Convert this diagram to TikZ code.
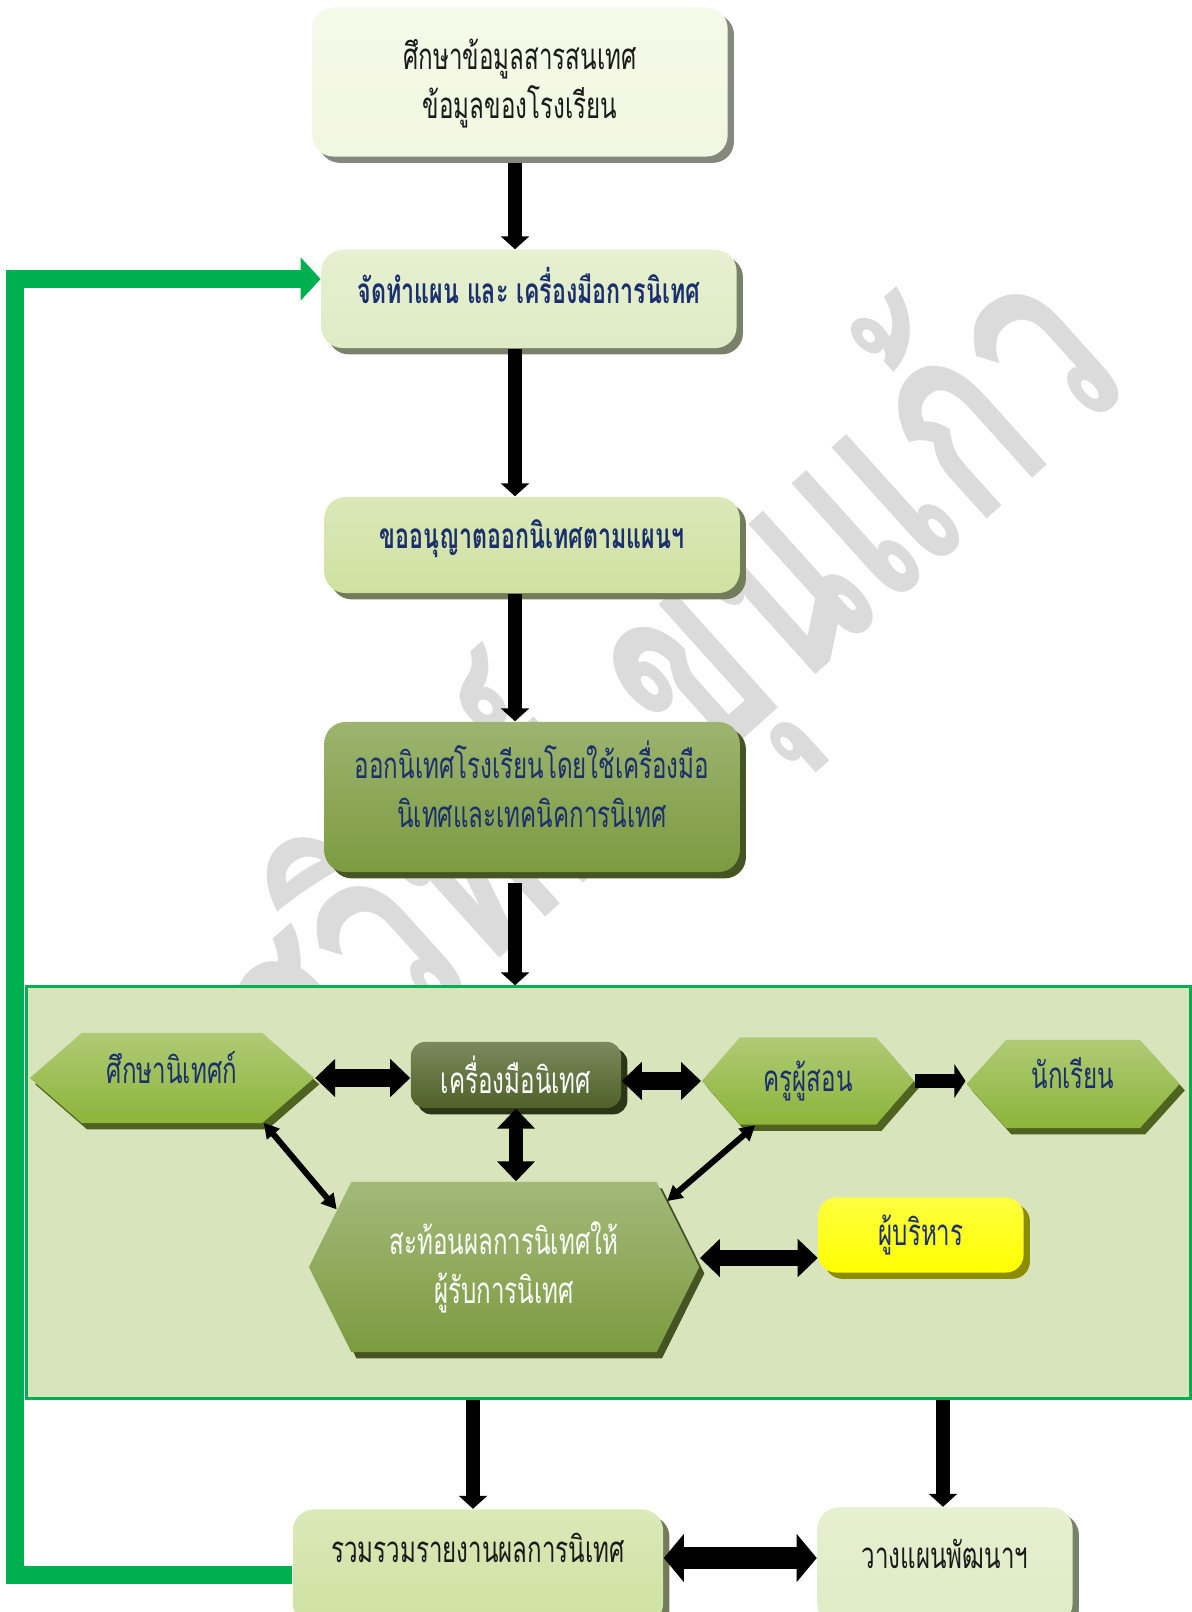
\documentclass[tikz,border=0pt]{standalone}
\usepackage{fontspec}
\setmainfont{Loma}[Script=Thai, FakeStretch=0.66]
\newfontfamily\markfont{Loma}[Script=Thai, FakeStretch=0.66]
\usetikzlibrary{arrows.meta, shapes.symbols, shadows}

\definecolor{navy}{HTML}{1B2F6E}
\definecolor{ink}{HTML}{1A1A1A}
\definecolor{paleA}{HTML}{F2F7E1}
\definecolor{paleB}{HTML}{DEEBC3}
\definecolor{paleC}{HTML}{CFE1A1}
\definecolor{olive}{HTML}{7C9B40}
\definecolor{leaf}{HTML}{8DB43A}
\definecolor{moss}{HTML}{4F6228}
\definecolor{sun}{HTML}{FFFF00}
\definecolor{panelbg}{HTML}{D8E4BC}
\definecolor{edge}{HTML}{00B050}

\begin{document}
\begin{tikzpicture}[x=0.01cm, y=-0.01cm,
	txt/.style={font=\fontsize{10.4}{14}\selectfont, align=center},
	card/.style={txt, rounded corners=6pt, top color=#1!75!white, bottom color=#1,
		drop shadow={shadow xshift=1.8pt, shadow yshift=-1.8pt, fill=#1!55!black, opacity=1}},
	hexa/.style={txt, shape=signal, signal to=east and west, inner sep=0pt,
		top color=#1!70!white, bottom color=#1,
		drop shadow={shadow xshift=1.5pt, shadow yshift=-1.8pt, fill=#1!55!black, opacity=1}},
	down/.style={line width=4pt, -{Triangle[length=1.3mm, width=2.8mm]}},
	both/.style={line width=5pt, {Triangle[length=2mm, width=3.7mm]}-{Triangle[length=2mm, width=3.7mm]}},
	slim/.style={line width=1.7pt, {Triangle[length=1.5mm, width=1.6mm]}-{Triangle[length=1.5mm, width=1.6mm]}},
	back/.style={draw=edge, line width=5.2pt, -{Triangle[length=2mm, width=4.2mm]}}]
	\useasboundingbox (0,0) rectangle (1192,1612);
	
	% watermark
	\node[rotate=42, text=gray!28, font=\markfont\bfseries\fontsize{80}{80}\selectfont] (mark) at (668,690) {สุวิทย์ ขุนแก้ว};
	
	% frame round the inner part
	\node[draw=edge, fill=panelbg, line width=0.9pt, minimum width=11.63cm, minimum height=4.11cm, inner sep=0pt] (panel) at (608.5,1192.5) {};
	
	% main column
	\node[card=paleA, text=ink, minimum width=4.15cm, minimum height=1.49cm, text depth=2pt] (info) at (520,82) {ศึกษาข้อมูลสารสนเทศ\\ข้อมูลของโรงเรียน};
	\node[card=paleB, text=navy, minimum width=4.15cm, minimum height=0.98cm, font=\bfseries, text depth=8pt] (plan) at (529,299) {จัดทำแผน และ เครื่องมือการนิเทศ};
	\node[card=paleC, text=navy, minimum width=4.15cm, minimum height=0.96cm, font=\bfseries, text depth=6pt] (permit) at (532,545) {ขออนุญาตออกนิเทศตามแผนฯ};
	\node[card=olive, text=navy, minimum width=4.15cm, minimum height=1.5cm, text depth=7.5pt] (visit) at (532,797) {ออกนิเทศโรงเรียนโดยใช้เครื่องมือ\\นิเทศและเทคนิคการนิเทศ};
	
	% inner part
	\node[hexa=leaf, text=navy, signal pointer angle=82, minimum width=2.84cm, minimum height=0.9cm, text depth=6pt] (sup) at (172,1078) {ศึกษานิเทศก์};
	\node[card=moss, text=white, rounded corners=4pt, minimum width=2.1cm, minimum height=0.66cm] (tool) at (516,1075) {เครื่องมือนิเทศ};
	\node[hexa=leaf, text=navy, signal pointer angle=98, minimum width=2.12cm, minimum height=0.87cm] (teacher) at (808,1081) {ครูผู้สอน};
	\node[hexa=leaf, text=navy, signal pointer angle=96, minimum width=2.13cm, minimum height=0.88cm, text depth=6pt] (student) at (1073,1084) {นักเรียน};
	\node[hexa=olive, text=white, signal pointer angle=127, minimum width=3.9cm, minimum height=1.7cm] (reflect) at (504,1267) {สะท้อนผลการนิเทศให้\\ผู้รับการนิเทศ};
	\node[card=sun, text=navy, rounded corners=5pt, minimum width=2.05cm, minimum height=0.75cm] (admin) at (921,1235) {ผู้บริหาร};
	
	% bottom row
	\node[card=paleC, text=ink, minimum width=3.7cm, minimum height=1.15cm, text depth=11pt] (report) at (478,1567) {รวมรวมรายงานผลการนิเทศ};
	\node[card=paleB, text=ink, minimum width=2.55cm, minimum height=1.17cm, text depth=7pt] (devplan) at (945,1566) {วางแผนพัฒนาฯ};
	
	\coordinate (mid) at (515,0);
	\coordinate (lx) at (473,0);
	\coordinate (rx) at (943,0);
	\draw[down, shorten <=1.5pt] (info.south -| mid) -- (plan.north -| mid);
	\draw[down] (plan.south -| mid) -- (permit.north -| mid);
	\draw[down] (permit.south -| mid) -- (visit.north -| mid);
	\draw[down, shorten <=3pt] (visit.south -| mid) -- (panel.north -| mid);
	\draw[down] (panel.south -| lx) -- (report.north -| lx);
	\draw[down] (panel.south -| rx) -- (devplan.north -| rx);
	
	\draw[both] (sup.east) -- (sup.east -| tool.west);
	\draw[both] (tool.east |- teacher.west) -- (teacher.west);
	\draw[line width=4.2pt, -{Triangle[length=1.1mm, width=3.3mm]}] (teacher.east) -- (teacher.east -| student.west);
	\draw[both, line width=4.2pt] (tool.south) -- (tool.south |- reflect.north);
	\draw[slim] (sup.-26) -- (reflect.161);
	\draw[slim] (teacher.-140) -- (reflect.22);
	\draw[both, line width=4.8pt] (reflect.east |- 0,1258) -- (admin.west |- 0,1258);
	\draw[both, line width=6pt, {Triangle[length=2mm, width=4.7mm]}-{Triangle[length=2mm, width=4.7mm]}] (report.east |- 0,1558) -- (devplan.west |- 0,1558);
	
	% feedback line
	\coordinate (fbl) at (15,1575);
	\coordinate (fbt) at (15,279);
	\draw[back] (report.west |- fbl) -- (fbl) -- (fbt) -- (plan.west |- fbt);
\end{tikzpicture}
\end{document}
